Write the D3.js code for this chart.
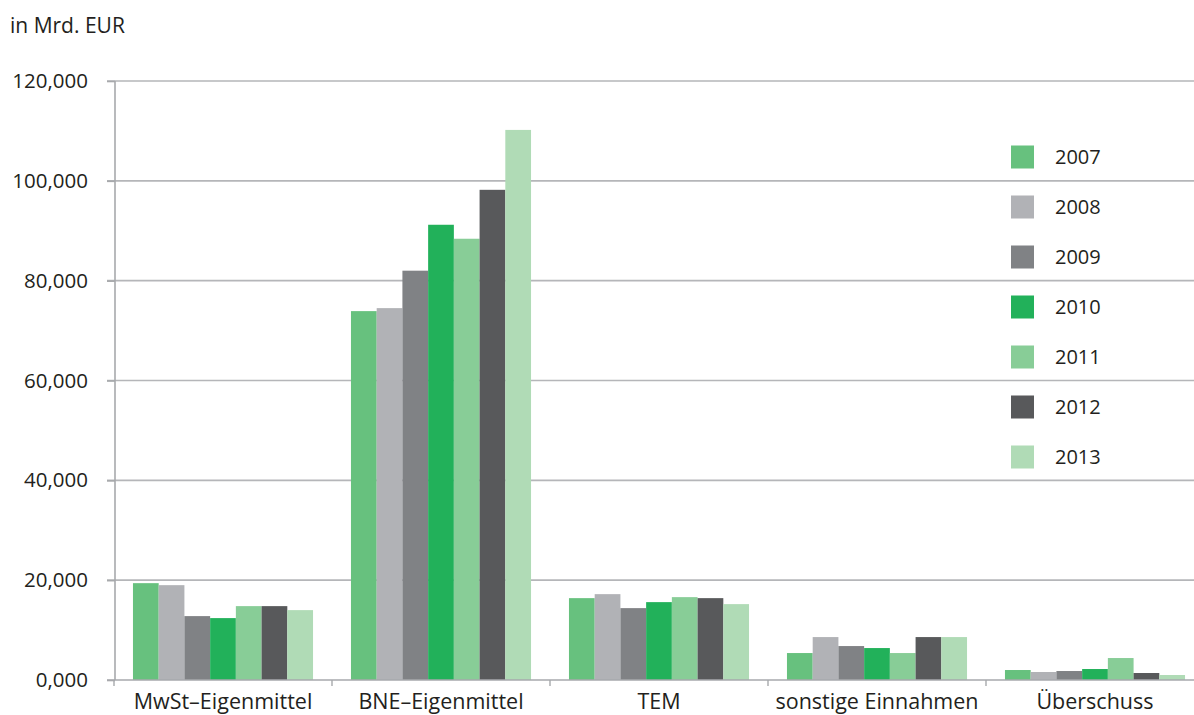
<!DOCTYPE html>
<html>
<head>
<meta charset="utf-8">
<script src="https://cdn.jsdelivr.net/npm/d3@7"></script>
<style>
  html, body { margin: 0; padding: 0; background: #fff; }
  svg { display: block; }
  text { font-family: "Open Sans", "Noto Sans", sans-serif; fill: #231f20; }
</style>
</head>
<body>
<svg id="chart" width="1194" height="715"></svg>
<script>
const categories = ["MwSt–Eigenmittel", "BNE–Eigenmittel", "TEM", "sonstige Einnahmen", "Überschuss"];
const years = ["2007", "2008", "2009", "2010", "2011", "2012", "2013"];
const colors = ["#67c17e", "#b1b2b6", "#808285", "#22b15a", "#88cd97", "#58595b", "#b0dbb6"];
// values in Mrd. EUR, one array per year, order = categories
const v2007 = [19.4, 73.9, 16.4, 5.4, 2.0];
const v2008 = [19.0, 74.5, 17.2, 8.6, 1.6];
const v2009 = [12.8, 82.0, 14.4, 6.8, 1.8];
const v2010 = [12.4, 91.2, 15.6, 6.4, 2.2];
const v2011 = [14.8, 88.4, 16.6, 5.4, 4.4];
const v2012 = [14.8, 98.2, 16.4, 8.6, 1.4];
const v2013 = [14.0, 110.2, 15.2, 8.6, 1.0];
const yTicks = [0, 20, 40, 60, 80, 100, 120];
const unitLabel = "in Mrd. EUR";

const series = [v2007, v2008, v2009, v2010, v2011, v2012, v2013];

const svg = d3.select("#chart");
const locale = d3.formatLocale({decimal: ",", thousands: ".", grouping: [3], currency: ["", " €"]});
const fmt = locale.format(".3f");

const x0 = d3.scaleBand().domain(categories).range([114, 1204]).paddingInner(0.174).paddingOuter(0.087);
const x1 = d3.scaleBand().domain(years).range([0, x0.bandwidth()]).padding(0);
const y = d3.scaleLinear().domain([0, 120]).range([680, 81]);
const color = d3.scaleOrdinal().domain(years).range(colors);

// gridlines
svg.append("g").selectAll("line").data(yTicks.filter(d => d > 0)).join("line")
  .attr("x1", 107).attr("x2", 1194)
  .attr("y1", d => y(d)).attr("y2", d => y(d))
  .attr("stroke", "#b5b6b9").attr("stroke-width", 1.6);

// y axis
const yAxis = d3.axisLeft(y).tickValues(yTicks).tickFormat(fmt).tickSize(8).tickPadding(19);
const gy = svg.append("g").attr("transform", "translate(115,0)").call(yAxis);
gy.select(".domain").attr("stroke", "#a7a9ac").attr("stroke-width", 1.6).attr("d", `M0,${y(120)}V${y(0)}`);
gy.selectAll(".tick line").attr("stroke", "#a7a9ac").attr("stroke-width", 1.6);
gy.selectAll(".tick text").attr("font-size", 20.5).attr("fill", "#231f20")
  .attr("font-family", "'Open Sans', sans-serif");

// bars
const groups = svg.append("g").selectAll("g").data(categories).join("g")
  .attr("transform", d => `translate(${x0(d)},0)`);
groups.selectAll("rect").data((c, ci) => years.map((yr, yi) => ({yr, v: series[yi][ci]}))).join("rect")
  .attr("x", d => x1(d.yr))
  .attr("width", x1.bandwidth())
  .attr("y", d => y(d.v))
  .attr("height", d => y(0) - y(d.v))
  .attr("fill", d => color(d.yr));

// x axis baseline + boundary ticks
svg.append("line").attr("x1", 107).attr("x2", 1194).attr("y1", y(0)).attr("y2", y(0))
  .attr("stroke", "#a7a9ac").attr("stroke-width", 1.6);
const step = x0.step();
const bounds = categories.map((c, i) => x0.range()[0] + i * step);
svg.append("g").selectAll("line").data(bounds).join("line")
  .attr("x1", d => d).attr("x2", d => d).attr("y1", y(0)).attr("y2", y(0) + 6)
  .attr("stroke", "#a7a9ac").attr("stroke-width", 1.4);

// category labels
svg.append("g").selectAll("text").data(categories).join("text")
  .attr("x", d => x0(d) + x0.bandwidth() / 2)
  .attr("y", 709)
  .attr("text-anchor", "middle")
  .attr("font-size", 21.5)
  .text(d => d);

// unit label
svg.append("text").attr("x", 10).attr("y", 33).attr("font-size", 21).text(unitLabel);

// legend
const lg = svg.append("g").selectAll("g").data(years).join("g")
  .attr("transform", (d, i) => `translate(1011,${157 + i * 50})`);
lg.append("rect").attr("x", 0).attr("y", -11.5).attr("width", 23).attr("height", 23)
  .attr("fill", d => color(d));
lg.append("text").attr("x", 44).attr("y", 0).attr("dy", "0.35em").attr("font-size", 20).text(d => d);
</script>
</body>
</html>
